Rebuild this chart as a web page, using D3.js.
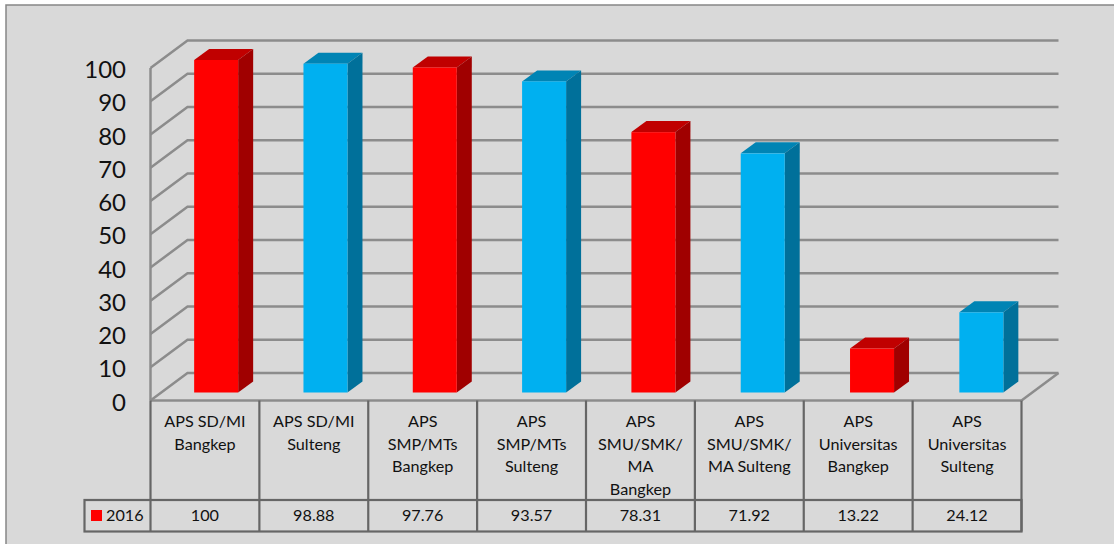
<!DOCTYPE html>
<html>
<head>
<meta charset="utf-8">
<script src="https://cdnjs.cloudflare.com/ajax/libs/d3/7.8.5/d3.min.js"></script>
<style>
html, body { margin: 0; padding: 0; background: #fff; }
svg { display: block; }
text { font-family: Lato, "Open Sans", sans-serif; fill: #111; }
</style>
</head>
<body>
<div id="main"></div>
<script>
var width = 1114,
    height = 544;

var categories = [
    ["APS SD/MI", "Bangkep"],
    ["APS SD/MI", "Sulteng"],
    ["APS", "SMP/MTs", "Bangkep"],
    ["APS", "SMP/MTs", "Sulteng"],
    ["APS", "SMU/SMK/", "MA", "Bangkep"],
    ["APS", "SMU/SMK/", "MA Sulteng"],
    ["APS", "Universitas", "Bangkep"],
    ["APS", "Universitas", "Sulteng"]
];
var values = [100, 98.88, 97.76, 93.57, 78.31, 71.92, 13.22, 24.12];
var valueLabels = ["100", "98.88", "97.76", "93.57", "78.31", "71.92", "13.22", "24.12"];
var seriesName = "2016";
var yTicks = [0, 10, 20, 30, 40, 50, 60, 70, 80, 90, 100];

// 3d look: depth of the walls and of the bars
var WALL_DX = 37, WALL_DY = -27.5;
var BAR_DX = 15, BAR_DY = -11;
var BAR_W = 44;
var RED = ["#ff0000", "#c00000", "#a00000"];
var BLUE = ["#00b0f0", "#0084b4", "#00709a"];
var GRID = "#8c8c8c", TABLE = "#666666";

var svg = d3.select("#main").append("svg")
    .attr("width", width)
    .attr("height", height);

// frame runs off the right and bottom of the picture
svg.append("rect")
    .attr("x", 6).attr("y", 5)
    .attr("width", width).attr("height", height)
    .attr("fill", "#d9d9d9")
    .attr("stroke", "#868686")
    .attr("stroke-width", 1.5);

var x = d3.scaleBand()
    .domain(d3.range(categories.length))
    .range([150.5, 1021.5]);

// bars sit in the middle of the floor, so their step is a bit wider than the table's
var xBar = d3.scaleBand()
    .domain(d3.range(categories.length))
    .range([161.5, 1036]);

var y = d3.scaleLinear()
    .domain([0, 100])
    .range([400.5, 68]);

// walls and gridlines
var grid = svg.append("g")
    .attr("fill", "none")
    .attr("stroke", GRID)
    .attr("stroke-width", 2.5);

grid.selectAll("path")
    .data(yTicks)
    .enter().append("path")
    .attr("d", function(d) {
        var p = d3.path();
        p.moveTo(x.range()[0], y(d));
        p.lineTo(x.range()[0] + WALL_DX, y(d) + WALL_DY);
        p.lineTo(x.range()[1] + WALL_DX, y(d) + WALL_DY);
        return p.toString();
    });

grid.append("line")
    .attr("x1", x.range()[0]).attr("x2", x.range()[0])
    .attr("y1", y(0)).attr("y2", y(100));

grid.append("path")
    .attr("d", `M${x.range()[1]},${y(0)}L${x.range()[1] + WALL_DX},${y(0) + WALL_DY}`);

// floor front edge
grid.append("line")
    .attr("x1", x.range()[0]).attr("x2", x.range()[1])
    .attr("y1", y(0)).attr("y2", y(0));

// bars
var base = y(0) - 8;
var yBar = function(v) { return base - (y(0) - y(v)); };

var bars = svg.selectAll(".bar")
    .data(values)
    .enter().append("g")
    .attr("class", "bar");

function barColor(i) { return i % 2 === 0 ? RED : BLUE; }
function barLeft(i) { return xBar(i) + (xBar.bandwidth() - BAR_W) / 2; }

bars.append("polygon")
    .attr("fill", function(d, i) { return barColor(i)[1]; })
    .attr("points", function(d, i) {
        var l = barLeft(i), t = yBar(d);
        return [[l, t], [l + BAR_W, t], [l + BAR_W + BAR_DX, t + BAR_DY], [l + BAR_DX, t + BAR_DY]].join(" ");
    });

bars.append("polygon")
    .attr("fill", function(d, i) { return barColor(i)[2]; })
    .attr("points", function(d, i) {
        var r = barLeft(i) + BAR_W, t = yBar(d);
        return [[r, t], [r + BAR_DX, t + BAR_DY], [r + BAR_DX, base + BAR_DY], [r, base]].join(" ");
    });

bars.append("rect")
    .attr("fill", function(d, i) { return barColor(i)[0]; })
    .attr("x", function(d, i) { return barLeft(i); })
    .attr("y", function(d) { return yBar(d); })
    .attr("width", BAR_W)
    .attr("height", function(d) { return base - yBar(d); });

// y axis labels
svg.selectAll(".ytick")
    .data(yTicks)
    .enter().append("text")
    .attr("class", "ytick")
    .attr("x", 126)
    .attr("y", function(d) { return y(d) + 10; })
    .attr("text-anchor", "end")
    .attr("font-size", 24)
    .text(function(d) { return d; });

// data table
var ROW_TOP = 500, ROW_BOT = 531.5, LEG_X = 84.5;
var table = svg.append("g")
    .attr("stroke", TABLE)
    .attr("stroke-width", 2.2)
    .attr("fill", "none");

table.selectAll(".vline")
    .data(d3.range(categories.length + 1))
    .enter().append("line")
    .attr("class", "vline")
    .attr("x1", function(d) { return x.range()[0] + d * x.step(); })
    .attr("x2", function(d) { return x.range()[0] + d * x.step(); })
    .attr("y1", y(0))
    .attr("y2", ROW_BOT);

table.append("rect")
    .attr("x", LEG_X).attr("y", ROW_TOP)
    .attr("width", x.range()[1] - LEG_X).attr("height", ROW_BOT - ROW_TOP);

var cats = svg.selectAll(".cat")
    .data(categories)
    .enter().append("text")
    .attr("class", "cat")
    .attr("font-size", 16.2)
    .attr("text-anchor", "middle");

cats.selectAll("tspan")
    .data(function(d, i) { return d.map(function(s) { return { s: s, i: i }; }); })
    .enter().append("tspan")
    .attr("x", function(d) { return x(d.i) + x.bandwidth() / 2; })
    .attr("y", function(d, j) { return 427 + j * 22.6; })
    .text(function(d) { return d.s; });

svg.selectAll(".val")
    .data(valueLabels)
    .enter().append("text")
    .attr("class", "val")
    .attr("font-size", 16.2)
    .attr("text-anchor", "middle")
    .attr("x", function(d, i) { return x(i) + x.bandwidth() / 2; })
    .attr("y", 521)
    .text(function(d) { return d; });

// legend cell
svg.append("rect")
    .attr("x", 91).attr("y", 510)
    .attr("width", 11).attr("height", 11)
    .attr("fill", RED[0]);

svg.append("text")
    .attr("x", 106)
    .attr("y", 521)
    .attr("font-size", 16.2)
    .text(seriesName);
</script>
</body>
</html>
